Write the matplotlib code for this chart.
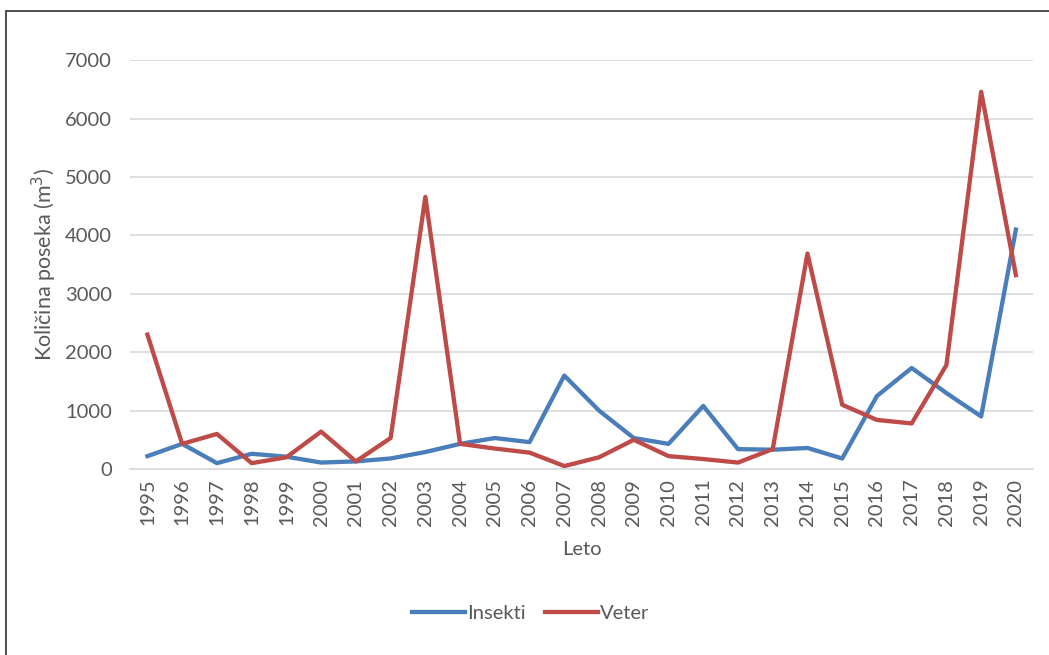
import matplotlib
matplotlib.use("Agg")
import matplotlib.pyplot as plt
from matplotlib.patches import Rectangle

years = list(range(1995, 2021))
insekti = [220, 430, 100, 260, 210, 110, 130, 180, 290, 430, 530, 460, 1600,
           1000, 530, 430, 1080, 340, 330, 360, 180, 1250, 1730, 1300, 900, 4100]
veter = [2300, 430, 600, 100, 200, 640, 130, 530, 4660, 430, 350, 280, 50,
         200, 500, 220, 170, 110, 340, 3690, 1100, 840, 780, 1780, 6460, 3320]
yticks = [0, 1000, 2000, 3000, 4000, 5000, 6000, 7000]

plt.rcParams["font.family"] = ["Lato", "DejaVu Sans"]
text_col = "#595959"
fs = 14.5

fig = plt.figure(figsize=(10.49, 6.55), dpi=100)
ax = fig.add_axes([0.124, 0.284, 0.861, 0.624])

ax.plot(years, insekti, color="#4A7EBB", lw=3.1, label="Insekti")
ax.plot(years, veter, color="#BE4B48", lw=3.1, label="Veter")

ax.set_xlim(1994.5, 2020.5)
ax.set_ylim(0, 7000)
ax.set_yticks(yticks)
ax.set_yticklabels([str(v) for v in yticks], fontsize=fs, color=text_col)
ax.set_xticks(years)
ax.set_xticklabels([str(y) for y in years], rotation=90, fontsize=fs, color=text_col)
ax.tick_params(axis="y", length=0, pad=13)
ax.tick_params(axis="x", length=0, pad=7)
ax.grid(axis="y", color="#D9D9D9", lw=1.2)
ax.set_axisbelow(True)
for s in ["top", "right", "left"]:
    ax.spines[s].set_visible(False)
ax.spines["bottom"].set_color("#D9D9D9")
ax.spines["bottom"].set_linewidth(1.2)

ax.set_ylabel("Količina poseka (m$^3$)", fontsize=15.5, color=text_col, labelpad=4)
ax.set_xlabel("Leto", fontsize=fs, color=text_col, labelpad=11)

fig.legend(loc="center", bbox_to_anchor=(0.506, 0.064), ncol=2, frameon=False,
           fontsize=fs, labelcolor=text_col, handlelength=2.6, handletextpad=0.1,
           columnspacing=1.0)

fig.patches.append(Rectangle((6 / 1049, -0.1), 1.2, 1 - 11 / 655 + 0.1,
                             transform=fig.transFigure, fill=False,
                             edgecolor="#404040", lw=1.3))

fig.savefig("out.png", dpi=100)
